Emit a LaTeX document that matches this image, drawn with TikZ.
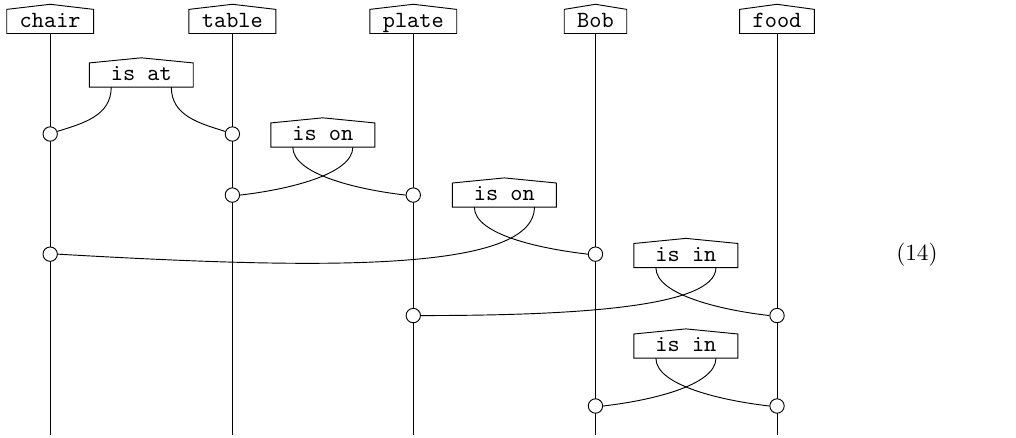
\documentclass[tikz,border=0pt]{standalone}
\newcommand{\roofbox}[1]{\draw (#1.south west) -- (#1.north west) -- ([yshift=2.2pt]#1.north) -- (#1.north east) -- (#1.south east) -- cycle;}
\begin{document}
\begin{tikzpicture}[
  word/.style={font=\ttfamily,inner xsep=5.4pt,inner ysep=1.4pt,text height=6.1pt,text depth=1.1pt},
  gen/.style={word,minimum width=44.4pt},
  dot/.style={circle,draw,fill=white,inner sep=0pt,minimum size=6.2pt}]
\useasboundingbox (0,0) rectangle (15.39,-6.62);
\coordinate (bot) at (0,-6.59);
% wires
\foreach \n/\x in {chair/0.76,table/3.52,plate/6.26,Bob/9.02,food/11.77}{
  \node[word] (\n) at (\x,-0.325) {\n};
  \roofbox{\n}
  \draw (\n.south) -- (\n.south |- bot);
}
% spiders
\node[dot] (atL) at (0.76,-2.03) {};
\node[dot] (atR) at (3.52,-2.03) {};
\node[dot] (onAL) at (3.52,-2.955) {};
\node[dot] (onAR) at (6.26,-2.955) {};
\node[dot] (onBL) at (0.76,-3.85) {};
\node[dot] (onBR) at (9.02,-3.85) {};
\node[dot] (inAL) at (6.26,-4.78) {};
\node[dot] (inAR) at (11.77,-4.78) {};
\node[dot] (inBL) at (9.02,-6.15) {};
\node[dot] (inBR) at (11.77,-6.15) {};
% boxes
\node[gen] (isat) at (2.14,-1.136) {is at}; \roofbox{isat}
\node[gen] (ison1) at (4.89,-2.045) {is on}; \roofbox{ison1}
\node[gen] (ison2) at (7.64,-2.955) {is on}; \roofbox{ison2}
\node[gen] (isin1) at (10.39,-3.871) {is in}; \roofbox{isin1}
\node[gen] (isin2) at (10.39,-5.242) {is in}; \roofbox{isin2}
% legs
\draw ([xshift=-0.455cm]isat.south) .. controls +(0,-0.44) and +(0.38,0.12) .. (atL.20);
\draw ([xshift=0.455cm]isat.south) .. controls +(0,-0.44) and +(-0.38,0.12) .. (atR.160);
\draw ([xshift=-0.455cm]ison1.south) .. controls +(0,-0.42) and +(-0.70,0.08) .. (onAR.west);
\draw ([xshift=0.455cm]ison1.south) .. controls +(0,-0.42) and +(0.70,0.08) .. (onAL.east);
\draw ([xshift=-0.455cm]ison2.south) .. controls +(0,-0.42) and +(-0.70,0.08) .. (onBR.west);
\draw ([xshift=0.455cm]ison2.south) .. controls +(0,-1.03) and +(3.68,-0.21) .. (onBL.east);
\draw ([xshift=-0.455cm]isin1.south) .. controls +(0,-0.42) and +(-0.70,0.08) .. (inAR.west);
\draw ([xshift=0.455cm]isin1.south) .. controls +(0,-0.61) and +(2.27,0) .. (inAL.east);
\draw ([xshift=-0.455cm]isin2.south) .. controls +(0,-0.42) and +(-0.70,0.08) .. (inBR.west);
\draw ([xshift=0.455cm]isin2.south) .. controls +(0,-0.42) and +(0.70,0.08) .. (inBL.east);
\node (eqno) at (13.89,-3.86) {(14)};
\end{tikzpicture}
\end{document}
